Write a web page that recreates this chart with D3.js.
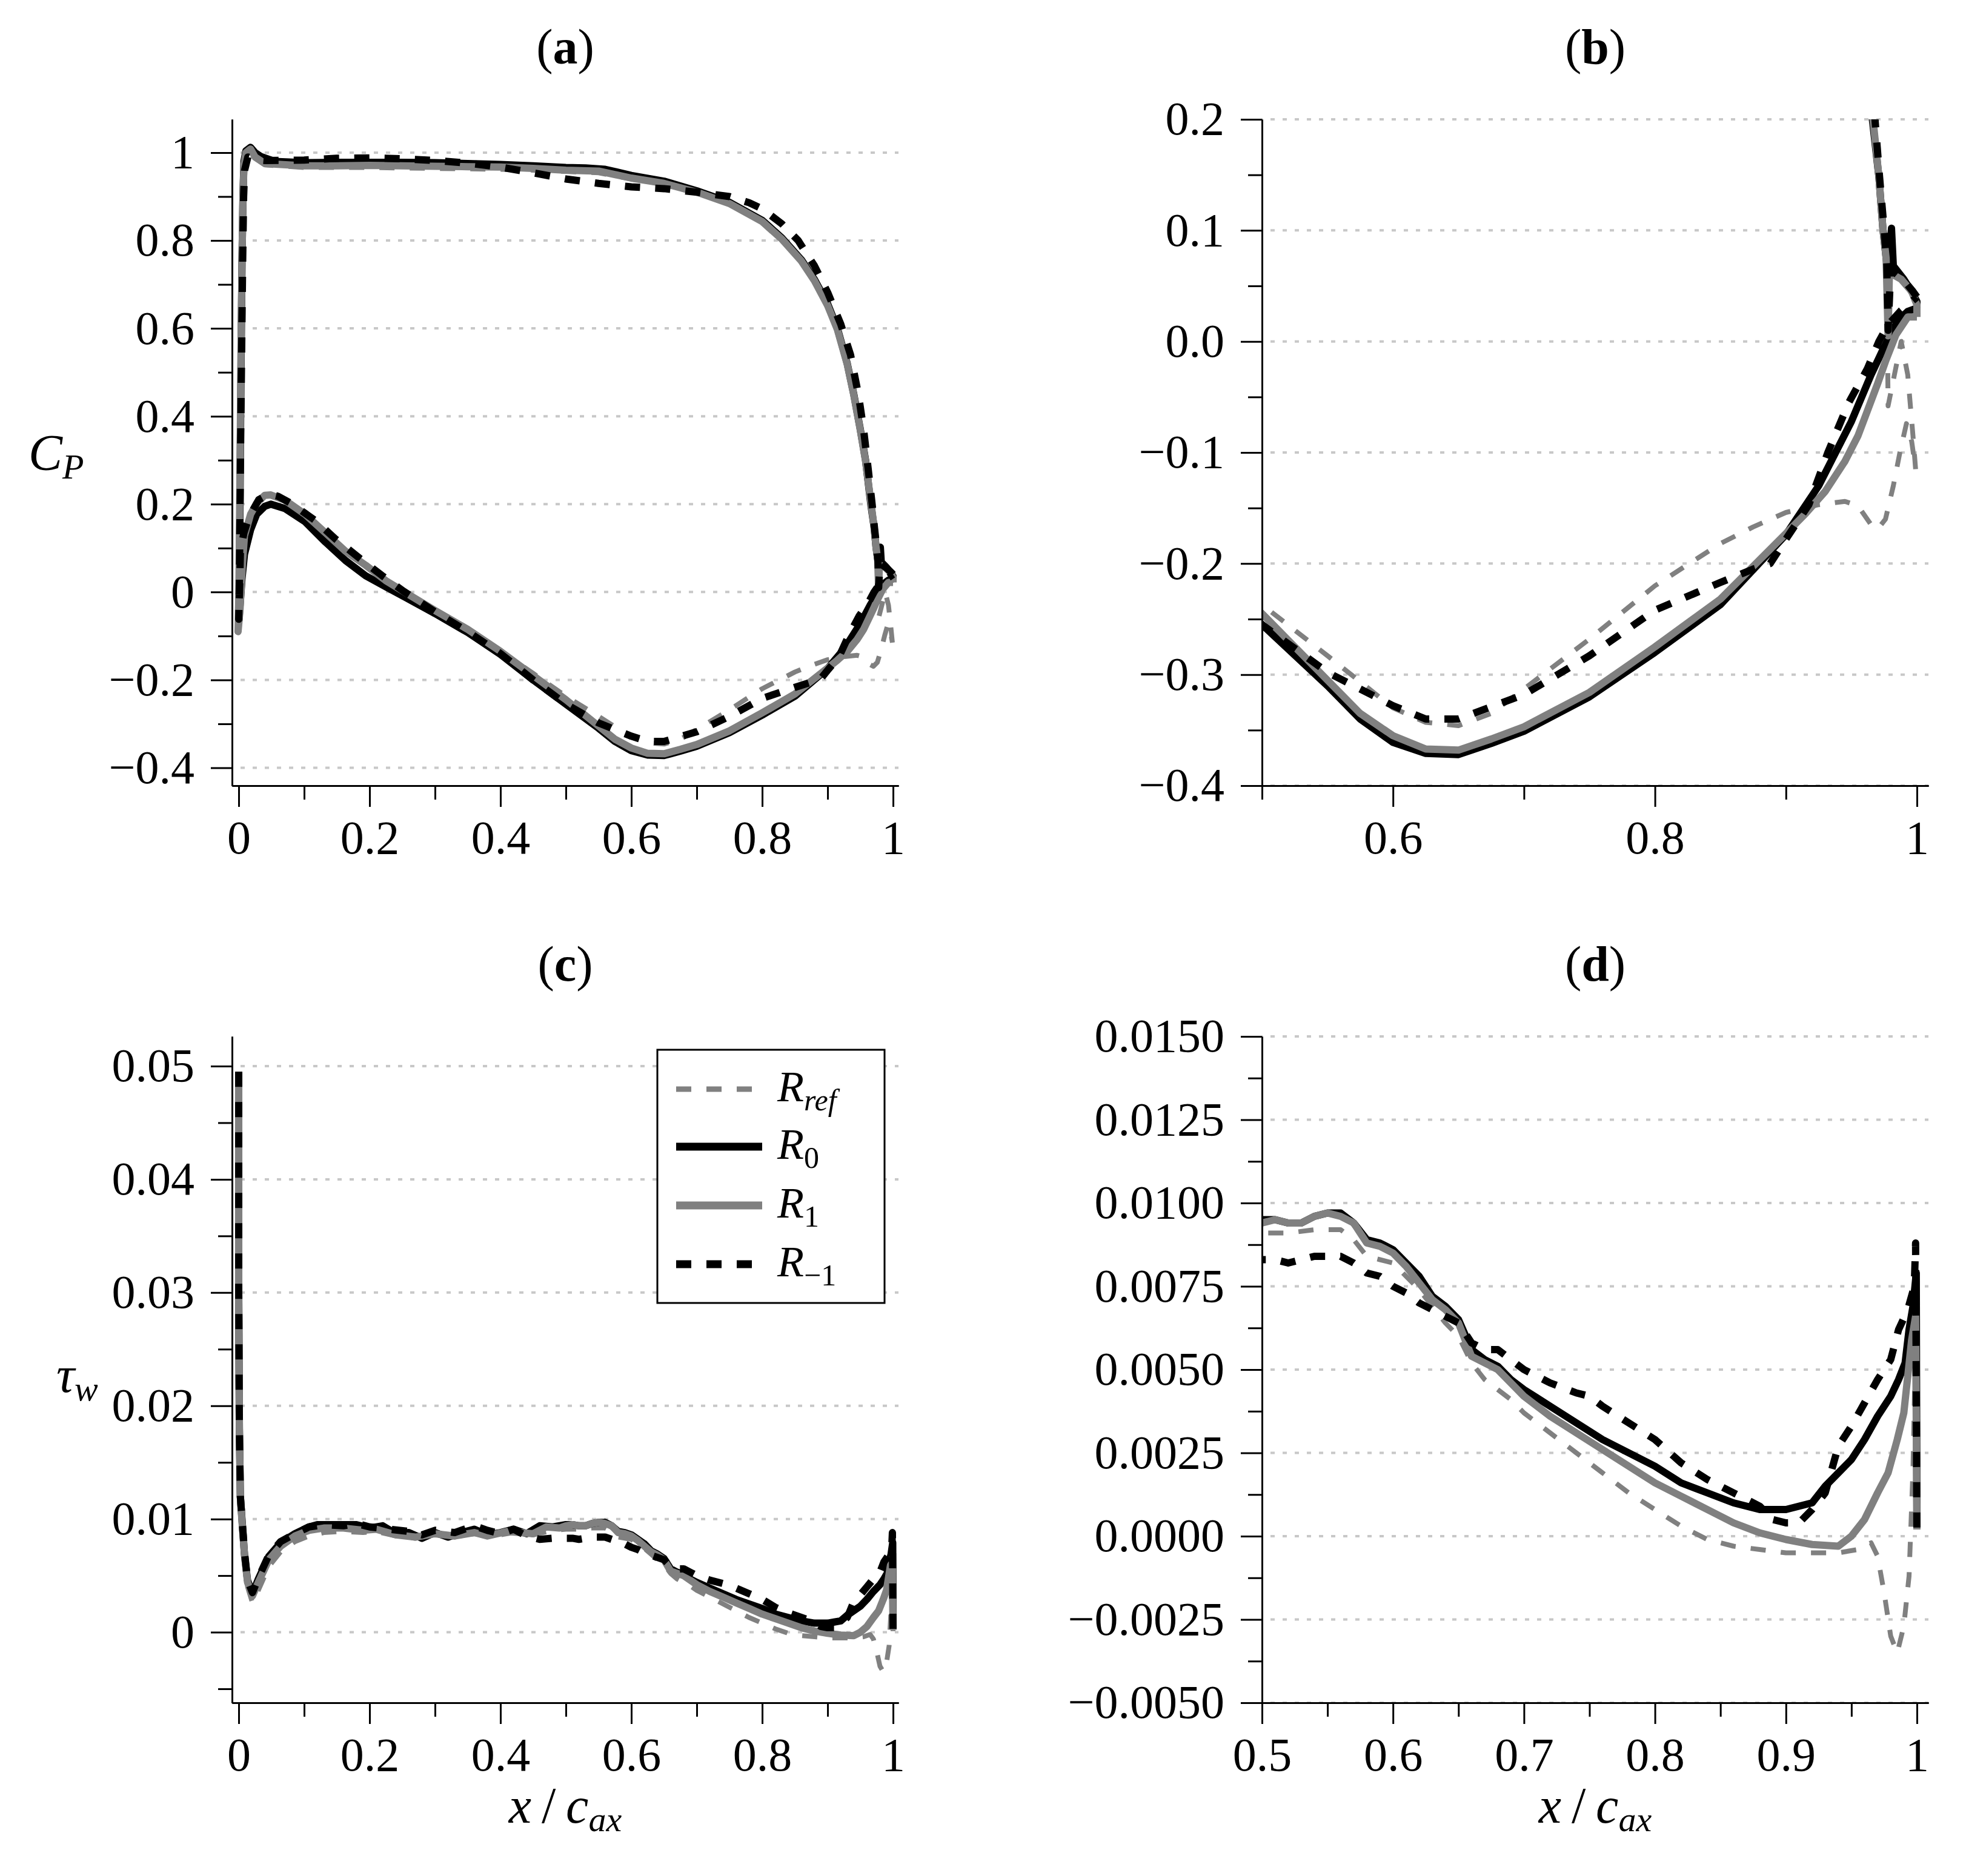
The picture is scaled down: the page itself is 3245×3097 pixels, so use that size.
<!DOCTYPE html>
<html>
<head>
<meta charset="utf-8">
<script src="https://cdn.jsdelivr.net/npm/d3@7"></script>
<style>
  body { margin: 0; background: #fff; }
  svg text { font-family: "Liberation Serif", "DejaVu Serif", serif; }
</style>
</head>
<body>
<div id="chart"></div>
<script>
// ---- data: [x/c_ax, value] ----
// Cp, pressure side (stagnation point -> trailing edge)
const cpRefPS = [[0.018,1.006],[0.025,0.988],[0.04,0.972],[0.1,0.966],[0.15,0.966],[0.2,0.966],[0.25,0.965],[0.3,0.964],[0.35,0.963],[0.4,0.962],[0.45,0.96],[0.5,0.957],[0.55,0.954],[0.6,0.94],[0.65,0.928],[0.7,0.908],[0.75,0.882],[0.8,0.842],[0.83,0.802],[0.86,0.752],[0.88,0.707],[0.9,0.651],[0.915,0.596],[0.93,0.517],[0.94,0.447],[0.95,0.367],[0.958,0.297],[0.9665,0.2],[0.971,0.148],[0.974,0.1],[0.977,0.06],[0.978,-0.058],[0.988,0.0],[0.993,-0.03],[0.997,-0.085],[0.999,-0.115]];
const cpR0PS = [[0.018,1.012],[0.025,1.0],[0.034,0.991],[0.055,0.98],[0.1,0.977],[0.15,0.978],[0.2,0.978],[0.25,0.978],[0.3,0.977],[0.35,0.975],[0.4,0.973],[0.45,0.97],[0.5,0.966],[0.53,0.965],[0.56,0.962],[0.6,0.948],[0.65,0.935],[0.7,0.913],[0.75,0.887],[0.8,0.846],[0.83,0.806],[0.86,0.756],[0.88,0.711],[0.9,0.656],[0.915,0.6],[0.93,0.52],[0.94,0.45],[0.95,0.37],[0.958,0.3],[0.966,0.2],[0.971,0.148],[0.974,0.102],[0.977,0.07],[0.979,0.068],[0.9806,0.102],[0.982,0.068],[0.99,0.056],[0.996,0.045],[1.0,0.036],[1.0,0.03]];
const cpR1PS = [[0.018,1.008],[0.025,0.99],[0.04,0.975],[0.1,0.97],[0.15,0.97],[0.2,0.971],[0.25,0.97],[0.3,0.969],[0.35,0.968],[0.4,0.967],[0.45,0.964],[0.5,0.96],[0.55,0.958],[0.6,0.942],[0.65,0.93],[0.7,0.91],[0.75,0.884],[0.8,0.843],[0.83,0.803],[0.86,0.753],[0.88,0.708],[0.9,0.652],[0.915,0.597],[0.93,0.518],[0.94,0.448],[0.95,0.368],[0.958,0.298],[0.9665,0.2],[0.971,0.148],[0.974,0.102],[0.9765,0.075],[0.978,0.005],[0.979,0.062],[0.988,0.056],[0.996,0.045],[1.0,0.033],[1.0,0.022]];
const cpRm1PS = [[0.014,0.99],[0.025,0.984],[0.04,0.982],[0.1,0.983],[0.15,0.987],[0.2,0.988],[0.25,0.986],[0.3,0.982],[0.35,0.976],[0.4,0.967],[0.45,0.954],[0.5,0.94],[0.55,0.93],[0.6,0.922],[0.65,0.918],[0.7,0.91],[0.75,0.9],[0.78,0.886],[0.8,0.872],[0.83,0.838],[0.855,0.8],[0.88,0.742],[0.9,0.682],[0.92,0.61],[0.935,0.54],[0.947,0.45],[0.955,0.37],[0.962,0.28],[0.968,0.2],[0.9715,0.148],[0.975,0.1],[0.977,0.07],[0.978,0.01],[0.98,0.065],[0.99,0.055],[0.997,0.045],[1.0,0.04]];

// Cp, suction side (stagnation point -> leading edge -> trailing edge)
const cpRefSS = [[0.018,1.006],[0.011,0.995],[0.008,0.965],[0.0065,0.9],[0.005,0.75],[0.0035,0.55],[0.0024,0.35],[0.0012,0.15],[0.0003,0.0],[-0.001,-0.092],[0.002,-0.045],[0.0055,0.055],[0.0088,0.125],[0.0182,0.175],[0.0274,0.2],[0.0397,0.217],[0.049,0.219],[0.0706,0.207],[0.1014,0.176],[0.1323,0.134],[0.1631,0.093],[0.194,0.06],[0.2248,0.026],[0.2557,-0.003],[0.3,-0.043],[0.35,-0.086],[0.4,-0.134],[0.45,-0.185],[0.5,-0.237],[0.55,-0.283],[0.6,-0.33],[0.625,-0.343],[0.65,-0.346],[0.675,-0.335],[0.7,-0.313],[0.75,-0.268],[0.8,-0.22],[0.85,-0.182],[0.875,-0.167],[0.9,-0.154],[0.925,-0.147],[0.945,-0.144],[0.955,-0.148],[0.965,-0.165],[0.97,-0.169],[0.976,-0.16],[0.982,-0.13],[0.987,-0.1],[0.992,-0.074],[0.996,-0.09],[0.999,-0.115]];
const cpR0SS = [[0.018,1.012],[0.011,1.004],[0.008,0.98],[0.0065,0.9],[0.005,0.75],[0.0038,0.55],[0.0027,0.35],[0.0017,0.15],[0.0008,0.0],[0.0003,-0.065],[0.002,-0.03],[0.005,0.03],[0.0088,0.086],[0.0182,0.142],[0.0274,0.177],[0.0397,0.195],[0.049,0.2],[0.0706,0.19],[0.1014,0.16],[0.1323,0.114],[0.163,0.072],[0.194,0.037],[0.2248,0.012],[0.2557,-0.013],[0.3,-0.049],[0.35,-0.092],[0.4,-0.142],[0.45,-0.2],[0.5,-0.255],[0.55,-0.31],[0.575,-0.34],[0.6,-0.361],[0.625,-0.371],[0.65,-0.372],[0.66,-0.368],[0.675,-0.362],[0.7,-0.351],[0.75,-0.32],[0.8,-0.28],[0.85,-0.237],[0.9,-0.174],[0.925,-0.13],[0.95,-0.072],[0.965,-0.03],[0.975,-0.005],[0.985,0.018],[0.993,0.027],[1.0,0.03]];
const cpR1SS = [[0.018,1.008],[0.011,1.0],[0.008,0.97],[0.0065,0.9],[0.005,0.75],[0.0035,0.55],[0.0024,0.35],[0.0012,0.15],[0.0003,0.0],[-0.001,-0.09],[0.002,-0.04],[0.0055,0.06],[0.0088,0.128],[0.0182,0.177],[0.0274,0.202],[0.0397,0.22],[0.049,0.221],[0.0706,0.209],[0.1014,0.177],[0.1323,0.135],[0.1631,0.093],[0.194,0.061],[0.2248,0.026],[0.2557,-0.002],[0.3,-0.042],[0.35,-0.085],[0.4,-0.135],[0.45,-0.19],[0.5,-0.245],[0.55,-0.305],[0.575,-0.335],[0.6,-0.355],[0.625,-0.367],[0.65,-0.368],[0.675,-0.358],[0.7,-0.347],[0.75,-0.316],[0.8,-0.275],[0.85,-0.232],[0.9,-0.173],[0.915,-0.155],[0.93,-0.135],[0.945,-0.108],[0.955,-0.085],[0.963,-0.06],[0.97,-0.038],[0.976,-0.018],[0.984,0.006],[0.993,0.022],[1.0,0.022]];
const cpRm1SS = [[0.014,0.99],[0.009,0.96],[0.0075,0.9],[0.006,0.75],[0.0045,0.55],[0.003,0.35],[0.0018,0.15],[0.0008,0.0],[0.0,-0.062],[0.0015,0.02],[0.0026,0.093],[0.008,0.135],[0.015,0.168],[0.0305,0.21],[0.046,0.223],[0.06,0.218],[0.0798,0.202],[0.1168,0.163],[0.1477,0.121],[0.1847,0.077],[0.2186,0.038],[0.2526,0.001],[0.3,-0.045],[0.35,-0.09],[0.4,-0.14],[0.45,-0.2],[0.5,-0.255],[0.55,-0.298],[0.6,-0.328],[0.625,-0.34],[0.65,-0.34],[0.675,-0.329],[0.7,-0.318],[0.75,-0.283],[0.8,-0.242],[0.85,-0.217],[0.875,-0.205],[0.888,-0.2],[0.9,-0.178],[0.9175,-0.147],[0.932,-0.1],[0.948,-0.055],[0.962,-0.025],[0.971,0.0],[0.978,0.015],[0.988,0.028],[1.0,0.04]];

// wall shear stress tau_w
const twRef = [[0.0,0.0495],[0.0,0.03],[0.001,0.018],[0.0025,0.0118],[0.005,0.0095],[0.009,0.0063],[0.0135,0.004],[0.021,0.0026],[0.03,0.0037],[0.046,0.0058],[0.064,0.0071],[0.086,0.008],[0.1075,0.0085],[0.13,0.0088],[0.16,0.0089],[0.19,0.0088],[0.21,0.0089],[0.24,0.0085],[0.27,0.0083],[0.3,0.0086],[0.33,0.0084],[0.36,0.0087],[0.39,0.0085],[0.42,0.0088],[0.45,0.0086],[0.48,0.009],[0.5,0.0091],[0.52,0.0091],[0.54,0.0092],[0.56,0.0092],[0.57,0.0089],[0.58,0.0084],[0.59,0.0083],[0.6,0.0082],[0.61,0.0078],[0.62,0.0074],[0.63,0.0069],[0.64,0.0064],[0.65,0.006],[0.66,0.0052],[0.67,0.0047],[0.68,0.0044],[0.69,0.0041],[0.7,0.0037],[0.72,0.0031],[0.74,0.0025],[0.76,0.0019],[0.78,0.0013],[0.8,0.0008],[0.82,0.0003],[0.84,-0.0001],[0.86,-0.0003],[0.88,-0.0004],[0.9,-0.0005],[0.92,-0.0005],[0.94,-0.0005],[0.955,-0.0004],[0.965,-0.0002],[0.97,-0.0006],[0.975,-0.0017],[0.98,-0.003],[0.985,-0.0035],[0.99,-0.0027],[0.994,-0.0012],[0.997,0.002],[0.999,0.006],[1.0,0.0001]];
const twR0 = [[0.0,0.0495],[0.0,0.03],[0.001,0.018],[0.0025,0.012],[0.005,0.01],[0.0088,0.0069],[0.0134,0.0046],[0.021,0.0034],[0.03,0.0047],[0.046,0.0067],[0.064,0.0079],[0.086,0.0087],[0.1075,0.0093],[0.12,0.0095],[0.15,0.0095],[0.18,0.0095],[0.2,0.0092],[0.22,0.0094],[0.24,0.0087],[0.26,0.0088],[0.28,0.0083],[0.3,0.0088],[0.32,0.0084],[0.34,0.0088],[0.36,0.0091],[0.38,0.0086],[0.4,0.0088],[0.42,0.0091],[0.44,0.0087],[0.46,0.0094],[0.48,0.0093],[0.5,0.0095],[0.51,0.0095],[0.52,0.0094],[0.53,0.0094],[0.54,0.0096],[0.55,0.0097],[0.56,0.0097],[0.57,0.0094],[0.58,0.0089],[0.59,0.0088],[0.6,0.0086],[0.61,0.0082],[0.62,0.0078],[0.63,0.0072],[0.64,0.0069],[0.65,0.0065],[0.66,0.0056],[0.67,0.0053],[0.68,0.0051],[0.69,0.0047],[0.7,0.0044],[0.72,0.0039],[0.74,0.0034],[0.76,0.0029],[0.78,0.0025],[0.8,0.0021],[0.82,0.0016],[0.84,0.0013],[0.86,0.001],[0.88,0.0008],[0.9,0.0008],[0.91,0.0009],[0.92,0.001],[0.93,0.0015],[0.94,0.0019],[0.95,0.0023],[0.96,0.0029],[0.97,0.0036],[0.98,0.0042],[0.986,0.0047],[0.991,0.0052],[0.994,0.0062],[0.997,0.0069],[0.9995,0.0079],[1.0,0.0003]];
const twR1 = [[0.0,0.0495],[0.0,0.03],[0.001,0.018],[0.0025,0.012],[0.005,0.0098],[0.009,0.0067],[0.0135,0.0044],[0.021,0.0032],[0.03,0.0044],[0.046,0.0064],[0.064,0.0076],[0.086,0.0085],[0.1075,0.009],[0.13,0.0092],[0.16,0.0092],[0.19,0.009],[0.21,0.0091],[0.24,0.0086],[0.27,0.0084],[0.3,0.0087],[0.33,0.0085],[0.36,0.0088],[0.38,0.0085],[0.41,0.0089],[0.43,0.0088],[0.45,0.0087],[0.47,0.0093],[0.49,0.0092],[0.5,0.0094],[0.51,0.0095],[0.52,0.0094],[0.53,0.0094],[0.54,0.0096],[0.55,0.0097],[0.56,0.0096],[0.57,0.0094],[0.58,0.0088],[0.59,0.0087],[0.6,0.0085],[0.61,0.0081],[0.62,0.0076],[0.63,0.0071],[0.64,0.0068],[0.65,0.0064],[0.66,0.0054],[0.67,0.0052],[0.68,0.005],[0.69,0.0046],[0.7,0.0042],[0.72,0.0036],[0.74,0.0031],[0.76,0.0026],[0.78,0.0021],[0.8,0.0016],[0.82,0.0012],[0.84,0.0008],[0.86,0.0004],[0.88,0.0001],[0.9,-0.0001],[0.92,-0.00025],[0.94,-0.0003],[0.95,0.0],[0.96,0.0005],[0.97,0.0013],[0.978,0.0019],[0.985,0.0029],[0.99,0.0037],[0.996,0.0059],[0.999,0.0066],[1.0,0.0002]];
const twRm1 = [[0.0,0.0495],[0.0,0.03],[0.001,0.018],[0.0025,0.012],[0.005,0.01],[0.009,0.007],[0.0134,0.0046],[0.021,0.0035],[0.03,0.0048],[0.046,0.0068],[0.064,0.008],[0.086,0.0087],[0.1075,0.0093],[0.13,0.0095],[0.16,0.0094],[0.18,0.0096],[0.2,0.0093],[0.23,0.0091],[0.26,0.0089],[0.28,0.0086],[0.3,0.009],[0.33,0.0088],[0.36,0.0094],[0.38,0.009],[0.4,0.0087],[0.42,0.0091],[0.44,0.0085],[0.46,0.0082],[0.48,0.0083],[0.5,0.0083],[0.51,0.0083],[0.52,0.0082],[0.53,0.0083],[0.54,0.0084],[0.55,0.0084],[0.56,0.0084],[0.57,0.0082],[0.58,0.0079],[0.59,0.0078],[0.6,0.0075],[0.61,0.0073],[0.62,0.007],[0.63,0.0068],[0.64,0.0066],[0.65,0.0064],[0.66,0.0058],[0.67,0.0056],[0.68,0.0056],[0.69,0.0053],[0.7,0.005],[0.72,0.0046],[0.74,0.0043],[0.75,0.0042],[0.76,0.0039],[0.78,0.0034],[0.8,0.0029],[0.82,0.0022],[0.84,0.0017],[0.86,0.0013],[0.88,0.0009],[0.89,0.0005],[0.9,0.0004],[0.91,0.0004],[0.92,0.0008],[0.93,0.0013],[0.935,0.002],[0.94,0.0027],[0.95,0.0033],[0.96,0.004],[0.97,0.0047],[0.975,0.005],[0.98,0.0053],[0.986,0.0062],[0.993,0.0068],[0.998,0.0075],[0.999,0.0088],[1.0,0.0002]];

// series: R_ref, R_0, R_1, R_-1
const seriesSub = ["ref", "0", "1", "\u22121"];
const seriesSubItalic = [true, false, false, false];
const seriesColor = ["#808080", "#000000", "#808080", "#000000"];
const seriesWidth = [8, 12, 12, 12];
const seriesDash = ["25 25", null, null, "25 25"];

// ticks
const fullXMajor = [0, 0.2, 0.4, 0.6, 0.8, 1];
const fullXMinor = [0.1, 0.3, 0.5, 0.7, 0.9];
const cpZoomXMajor = [0.6, 0.8, 1];
const cpZoomXMinor = [0.5, 0.7, 0.9];
const twZoomXMajor = [0.5, 0.6, 0.7, 0.8, 0.9, 1];
const twZoomXMinor = [0.55, 0.65, 0.75, 0.85, 0.95];
const cpFullYMajor = [-0.4, -0.2, 0, 0.2, 0.4, 0.6, 0.8, 1];
const cpFullYMinor = [-0.3, -0.1, 0.1, 0.3, 0.5, 0.7, 0.9];
const cpZoomYMajor = [-0.4, -0.3, -0.2, -0.1, 0, 0.1, 0.2];
const cpZoomYMinor = [-0.35, -0.25, -0.15, -0.05, 0.05, 0.15];
const twFullYMajor = [0, 0.01, 0.02, 0.03, 0.04, 0.05];
const twFullYMinor = [-0.005, 0.005, 0.015, 0.025, 0.035, 0.045];
const twZoomYMajor = [-0.005, -0.0025, 0, 0.0025, 0.005, 0.0075, 0.01, 0.0125, 0.015];
const twZoomYMinor = [-0.00375, -0.00125, 0.00125, 0.00375, 0.00625, 0.00875, 0.01125, 0.01375];

const W = 3245, H = 3097;
const PW = 1100, PH = 1100;
const tickFont = 78;

const cpLines = [[cpRefPS, cpRefSS], [cpR0PS, cpR0SS], [cpR1PS, cpR1SS], [cpRm1PS, cpRm1SS]]
    .map(([ps, ss]) => ps.slice().reverse().concat(ss));
const twLines = [twRef, twR0, twR1, twRm1];

const trim = d => (d === 0 ? "0" : d === 1 ? "1" : d3.format(".1f")(d));

const panels = [
    { key: "a", left: 383, top: 197, xDomain: [-0.0102, 1.0083], yDomain: [-0.4406, 1.0757],
      lines: cpLines, xMajor: fullXMajor, xMinor: fullXMinor, yMajor: cpFullYMajor, yMinor: cpFullYMinor,
      xFmt: trim, yFmt: trim },
    { key: "b", left: 2083, top: 197, xDomain: [0.5, 1.0088], yDomain: [-0.4, 0.2],
      lines: cpLines, xMajor: cpZoomXMajor, xMinor: cpZoomXMinor, yMajor: cpZoomYMajor, yMinor: cpZoomYMinor,
      xFmt: trim, yFmt: d3.format(".1f") },
    { key: "c", left: 383, top: 1711, xDomain: [-0.0102, 1.0083], yDomain: [-0.00623, 0.05262],
      lines: twLines, xMajor: fullXMajor, xMinor: fullXMinor, yMajor: twFullYMajor, yMinor: twFullYMinor,
      xFmt: trim, yFmt: d => (d === 0 ? "0" : d3.format(".2f")(d)) },
    { key: "d", left: 2083, top: 1711, xDomain: [0.5, 1.0088], yDomain: [-0.005, 0.015],
      lines: twLines, xMajor: twZoomXMajor, xMinor: twZoomXMinor, yMajor: twZoomYMajor, yMinor: twZoomYMinor,
      xFmt: trim, yFmt: d3.format(".4f") }
];

const svg = d3.select("#chart")
    .append("svg")
        .attr("width", W)
        .attr("height", H)
        .attr("viewBox", [0, 0, W, H]);

svg.append("rect").attr("width", W).attr("height", H).attr("fill", "#fff");

function styleAxis(g, withText) {
    g.attr("font-family", null).attr("font-size", null);
    g.selectAll("path, line").attr("stroke", "#000").attr("stroke-width", 3);
    if (withText) g.selectAll("text").attr("font-size", tickFont).attr("fill", "#000");
}

panels.forEach(p => {
    const x = d3.scaleLinear().domain(p.xDomain).range([0, PW]);
    const y = d3.scaleLinear().domain(p.yDomain).range([PH, 0]);

    const g = svg.append("g").attr("transform", `translate(${p.left},${p.top})`);

    g.append("clipPath").attr("id", "clip-" + p.key)
        .append("rect").attr("width", PW).attr("height", PH);

    // dotted horizontal grid
    g.append("g").selectAll("line")
        .data(p.yMajor)
        .enter().append("line")
            .attr("x1", 0).attr("x2", PW)
            .attr("y1", d => y(d)).attr("y2", d => y(d))
            .attr("stroke", "#c8c8c8")
            .attr("stroke-width", 4)
            .attr("stroke-dasharray", "7 13")
            .attr("stroke-dashoffset", -14);

    const line = d3.line().x(d => x(d[0])).y(d => y(d[1]));

    g.append("g")
            .attr("clip-path", `url(#clip-${p.key})`)
            .attr("fill", "none")
            .attr("stroke-linejoin", "round")
        .selectAll("path")
        .data(p.lines)
        .enter().append("path")
            .attr("d", line)
            .attr("stroke", (d, i) => seriesColor[i])
            .attr("stroke-width", (d, i) => seriesWidth[i])
            .attr("stroke-dasharray", (d, i) => seriesDash[i]);

    // axes: minor and major ticks
    g.append("g").attr("transform", `translate(0,${PH})`)
        .call(d3.axisBottom(x).tickValues(p.xMinor).tickSize(23).tickSizeOuter(0).tickFormat(""))
        .call(s => styleAxis(s, false));
    g.append("g").attr("transform", `translate(0,${PH})`)
        .call(d3.axisBottom(x).tickValues(p.xMajor).tickSize(35).tickSizeOuter(0).tickPadding(22).tickFormat(p.xFmt))
        .call(s => styleAxis(s, true));
    g.append("g")
        .call(d3.axisLeft(y).tickValues(p.yMinor).tickSize(23).tickSizeOuter(0).tickFormat(""))
        .call(s => styleAxis(s, false));
    g.append("g")
        .call(d3.axisLeft(y).tickValues(p.yMajor).tickSize(35).tickSizeOuter(0).tickPadding(27).tickFormat(p.yFmt))
        .call(s => styleAxis(s, true));

    // panel title, e.g. (a)
    const t = g.append("text")
        .attr("x", PW / 2)
        .attr("y", -92)
        .attr("text-anchor", "middle")
        .attr("font-size", 82);
    t.append("tspan").text("(");
    t.append("tspan").attr("font-weight", "bold").text(p.key);
    t.append("tspan").text(")");
});

// axis labels
const labelFont = 84;
const cpLabel = svg.append("text").attr("x", 47).attr("y", 776).attr("font-size", labelFont);
cpLabel.append("tspan").attr("font-style", "italic").text("C");
cpLabel.append("tspan").attr("font-style", "italic").attr("font-size", 58).attr("dy", 14).text("P");

const twLabel = svg.append("text").attr("x", 93).attr("y", 2298).attr("font-size", labelFont);
twLabel.append("tspan").attr("font-style", "italic").text("\u03C4");
twLabel.append("tspan").attr("font-style", "italic").attr("font-size", 58).attr("dy", 14).text("w");

[383 + PW / 2, 2083 + PW / 2].forEach(cx => {
    const xl = svg.append("text")
        .attr("x", cx)
        .attr("y", 3009)
        .attr("text-anchor", "middle")
        .attr("font-size", labelFont);
    xl.append("tspan").attr("font-style", "italic").text("x");
    xl.append("tspan").text("\u2009/\u2009");
    xl.append("tspan").attr("font-style", "italic").text("c");
    xl.append("tspan").attr("font-style", "italic").attr("font-size", 58).attr("dy", 14).text("ax");
});

// legend in panel (c)
const legend = svg.append("g");
legend.append("rect")
    .attr("x", 1085).attr("y", 1733)
    .attr("width", 375).attr("height", 418)
    .attr("fill", "#fff")
    .attr("stroke", "#000")
    .attr("stroke-width", 3);

const legendRows = [1798, 1893, 1990, 2087];
seriesSub.forEach((sub, i) => {
    const ly = legendRows[i];
    legend.append("line")
        .attr("x1", 1116).attr("x2", 1258)
        .attr("y1", ly).attr("y2", ly)
        .attr("stroke", seriesColor[i])
        .attr("stroke-width", seriesWidth[i] + 1)
        .attr("stroke-dasharray", seriesDash[i]);
    const lt = legend.append("text")
        .attr("x", 1283)
        .attr("y", ly + 20)
        .attr("font-size", 72);
    lt.append("tspan").attr("font-style", "italic").text("R");
    lt.append("tspan")
        .attr("font-style", seriesSubItalic[i] ? "italic" : null)
        .attr("font-size", 50)
        .attr("dy", 15)
        .text(sub);
});
</script>
</body>
</html>
